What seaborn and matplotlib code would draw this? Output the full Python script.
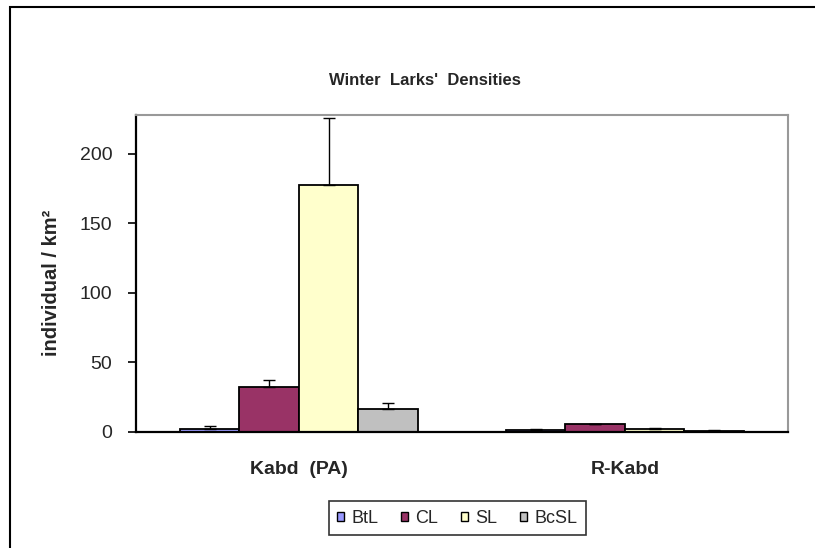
import matplotlib
matplotlib.use("Agg")
import matplotlib.pyplot as plt
from matplotlib.patches import Patch, Rectangle
import seaborn as sns
import pandas as pd

# data
sites = ["Kabd  (PA)", "R-Kabd"]
species = ["BtL", "CL", "SL", "BcSL"]
density_kabd = [2.5, 32.5, 178.0, 16.5]
density_rkabd = [1.5, 5.5, 2.5, 1.0]
error_kabd = [1.5, 5.0, 48.0, 4.0]
error_rkabd = [0.3, 0.5, 0.3, 0.2]
colors = ["#9999FF", "#993366", "#FFFFCC", "#C0C0C0"]

df = pd.DataFrame({
    "site": [sites[0]] * 4 + [sites[1]] * 4,
    "species": species * 2,
    "density": density_kabd + density_rkabd,
    "err": error_kabd + error_rkabd,
})

sns.set_style("white")
plt.rcParams["font.family"] = ["Liberation Sans", "DejaVu Sans"]

fig = plt.figure(figsize=(8.15, 5.48), dpi=100)
ax = fig.add_axes([0.1669, 0.2117, 0.7997, 0.5784])

sns.barplot(data=df, x="site", y="density", hue="species", palette=colors,
            width=0.73, edgecolor="black", linewidth=1.3, errorbar=None,
            saturation=1, legend=False, ax=ax)

# upper-only error bars on each bar
for cont, sp in zip(ax.containers, species):
    for bar, site in zip(cont.patches, sites):
        row = df[(df["species"] == sp) & (df["site"] == site)].iloc[0]
        xc = bar.get_x() + bar.get_width() / 2
        ax.errorbar(xc, bar.get_height(), yerr=[[0], [row["err"]]],
                    fmt="none", ecolor="black", elinewidth=1.0,
                    capsize=4.5, capthick=1.0, zorder=1)

ax.set_ylim(0, 228)
ax.set_yticks([0, 50, 100, 150, 200])
ax.set_xlim(-0.5, 1.5)
ax.tick_params(axis="y", labelsize=14, length=6, width=1.2, direction="out",
               left=True, color="black", pad=11)
ax.tick_params(axis="x", labelsize=14, length=0, pad=21)
for lab in ax.get_xticklabels():
    lab.set_fontweight("bold")

ax.set_xlabel("")
ax.set_ylabel("individual / km²", fontsize=14.5, fontweight="bold")
ax.yaxis.set_label_coords(-0.115, 0.47)

for s in ["left", "bottom"]:
    ax.spines[s].set_color("black")
    ax.spines[s].set_linewidth(1.6)
for s in ["top", "right"]:
    ax.spines[s].set_color("#999999")
    ax.spines[s].set_linewidth(1.5)

fig.text(0.522, 0.854, "Winter  Larks'  Densities", ha="center", va="center",
         fontsize=12, fontweight="bold")

handles = [Patch(facecolor=c, edgecolor="black", linewidth=1.0) for c in colors]
leg = fig.legend(handles, species, loc="center", bbox_to_anchor=(0.561, 0.0547),
                 ncol=4, fontsize=13, frameon=True, fancybox=False,
                 handlelength=0.4, handleheight=0.4, handletextpad=0.4,
                 columnspacing=1.25, borderpad=0.45)
leg.get_frame().set_edgecolor("black")
leg.get_frame().set_linewidth(1.2)

# outer chart-area border
fig.patches.append(Rectangle((10 / 815, -0.1), 1.2, 1.1 - 7 / 548,
                             transform=fig.transFigure, fill=False,
                             edgecolor="black", linewidth=1.5))

fig.savefig("out.png", dpi=100)
